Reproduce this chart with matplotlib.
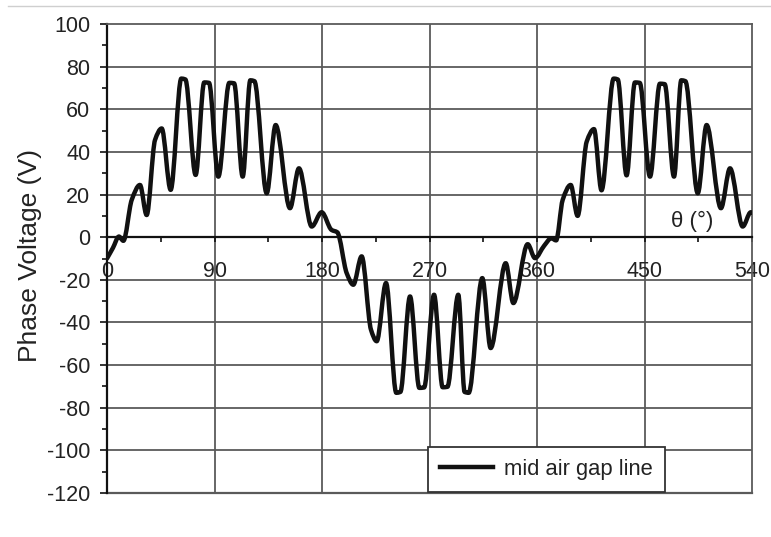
import numpy as np
import matplotlib
matplotlib.use("Agg")
import matplotlib.pyplot as plt
from matplotlib.path import Path
from matplotlib.patches import PathPatch
from matplotlib.lines import Line2D
from matplotlib.ticker import MultipleLocator

plt.rcParams['font.family'] = ['Liberation Sans', 'DejaVu Sans']
plt.rcParams['axes.unicode_minus'] = False

# Phase voltage along the mid air gap line (rotor angle in degrees, voltage in V).
# The large slot-ripple crests are flat-topped, so each is given by two points.
theta_deg = [
    0, 5, 10, 13.7, 20.7, 27.6, 33.2, 40.2, 45.8, 53.3,
    62.2, 65.6, 74.2, 81.4, 85.4, 93.2, 102.4, 106.4, 113.6, 120, 123.4, 133.7,
    141.2, 153.2, 160.7, 171.4, 179.7, 188, 192.8, 200.7, 206.2, 213.2,
    221, 225.8, 233.6, 242.2, 245.6, 253.7, 261.5, 265.5, 273.8, 281, 285,
    294.1, 299.4, 302.8, 314.2, 321.2, 333.8, 340.2, 352.2, 358.3,
    366, 372, 376, 381.5, 388.2, 394, 401.6, 407.7, 414,
    424.2, 427.6, 435, 442, 446, 454.6, 462.9, 466.9, 474.7, 480.8, 484.2, 494.6,
    502, 514, 521.6, 532.2, 539, 540,
]
voltage = [
    -10, -5, 0.3, -1.7, 17.5, 24.5, 10.4, 45.6, 51, 22.2,
    74.4, 74.0, 29.2, 72.6, 72.4, 28.4, 72.4, 72.2, 28.4, 73.6, 73.2, 20.6,
    52.6, 13.6, 32.3, 5, 11.7, 3.4, 2.3, -16.9, -22.3, -9,
    -43.4, -48.8, -21.5, -73, -72.6, -27.8, -70.7, -70.5, -27, -70.4, -70.2,
    -27, -72.6, -73, -19.2, -52, -12.2, -30.9, -3.3, -9.8,
    -4, -0.5, -1.5, 17.5, 24.5, 10, 44.8, 50.7, 22,
    74.4, 74.0, 29, 72.6, 72.4, 28.4, 72, 71.8, 28.4, 73.6, 73.2, 20.6,
    52.6, 13.6, 32.3, 5, 11.7, 11.5,
]

x_ticks = [0, 90, 180, 270, 360, 450, 540]
y_ticks = [-120, -100, -80, -60, -40, -20, 0, 20, 40, 60, 80, 100]
series_label = "mid air gap line"


def pchip_slopes(x, y):
    h = np.diff(x)
    d = np.diff(y) / h
    n = len(x)
    m = np.zeros(n)
    for k in range(1, n - 1):
        if d[k - 1] * d[k] > 0:
            w1 = 2 * h[k] + h[k - 1]
            w2 = h[k] + 2 * h[k - 1]
            m[k] = (w1 + w2) / (w1 / d[k - 1] + w2 / d[k])
    m[0] = d[0]
    m[-1] = d[-1]
    return m


def smooth_path(xs, ys):
    """Shape-preserving cubic path (Bezier segments) through the points."""
    x = np.asarray(xs, float)
    y = np.asarray(ys, float)
    m = pchip_slopes(x, y)
    verts = [(x[0], y[0])]
    codes = [Path.MOVETO]
    for i in range(len(x) - 1):
        h = x[i + 1] - x[i]
        verts += [(x[i] + h / 3, y[i] + m[i] * h / 3),
                  (x[i + 1] - h / 3, y[i + 1] - m[i + 1] * h / 3),
                  (x[i + 1], y[i + 1])]
        codes += [Path.CURVE4] * 3
    return Path(verts, codes)


fig = plt.figure(figsize=(7.71, 5.37), dpi=100)
fig.patch.set_facecolor('white')
ax = fig.add_axes([107 / 771, 1 - 493 / 537, 645 / 771, 469 / 537])

grid_c = '#5a5a5a'
ax.set_xlim(0, 540)
ax.set_ylim(-120, 100)

# gridlines
for yv in y_ticks:
    if yv not in (0, 100, -120):
        ax.axhline(yv, color=grid_c, lw=1.3, zorder=1)
for xv in x_ticks[1:-1]:
    ax.axvline(xv, color=grid_c, lw=1.3, zorder=1)
ax.axhline(-120, color=grid_c, lw=1.6, zorder=1, clip_on=False)

# voltage curve
lw_curve = 3.2
patch = PathPatch(smooth_path(theta_deg, voltage), fill=False,
                  edgecolor='#111111', lw=lw_curve, joinstyle='round',
                  capstyle='round', zorder=3)
ax.add_patch(patch)

# axes: x axis runs along V = 0
ax.spines['bottom'].set_position(('data', 0))
ax.spines['bottom'].set_color('#111111')
ax.spines['bottom'].set_linewidth(1.6)
ax.spines['left'].set_color('#111111')
ax.spines['left'].set_linewidth(1.6)
ax.spines['top'].set_color(grid_c)
ax.spines['top'].set_linewidth(1.3)
ax.spines['right'].set_color(grid_c)
ax.spines['right'].set_linewidth(1.3)
for sp in ax.spines.values():
    sp.set_zorder(2)

ax.set_xticks(x_ticks)
ax.xaxis.set_minor_locator(MultipleLocator(45))
ax.set_yticks(y_ticks)
ax.yaxis.set_minor_locator(MultipleLocator(10))

ax.tick_params(axis='x', which='major', direction='out', length=3.5, width=1.2,
               color='#111111', pad=13.5, labelsize=15.5, labelcolor='#222222')
ax.tick_params(axis='x', which='minor', direction='out', length=3.5, width=1.2,
               color='#111111')
ax.tick_params(axis='y', which='major', direction='out', length=5, width=1.2,
               color='#111111', pad=7, labelsize=15.5, labelcolor='#222222')
ax.tick_params(axis='y', which='minor', direction='out', length=3.5, width=1.2,
               color='#111111')

ax.set_ylabel("Phase Voltage (V)", fontsize=19, color='#222222')
ax.yaxis.set_label_coords(-0.1008, 0.507)

ax.text(490, 7.2, "θ (°)", fontsize=16, color='#222222', ha='center',
        va='center', zorder=4)

handle = Line2D([], [], color='#111111', lw=lw_curve)
leg = ax.legend([handle], [series_label], loc='lower left',
                bbox_to_anchor=(0.4977, 0.002), borderaxespad=0,
                fontsize=15.8, handlelength=2.4, handletextpad=0.5,
                borderpad=0.55, fancybox=False, framealpha=1,
                edgecolor='#333333')
leg.get_frame().set_linewidth(1.3)
for t in leg.get_texts():
    t.set_color('#222222')
leg.set_zorder(5)

# thin page rule at the top
fig.add_artist(Line2D([8 / 771, 1], [1 - 6 / 537] * 2, color='#cfcfcf', lw=1))

fig.savefig("out.png", dpi=100, facecolor='white')
